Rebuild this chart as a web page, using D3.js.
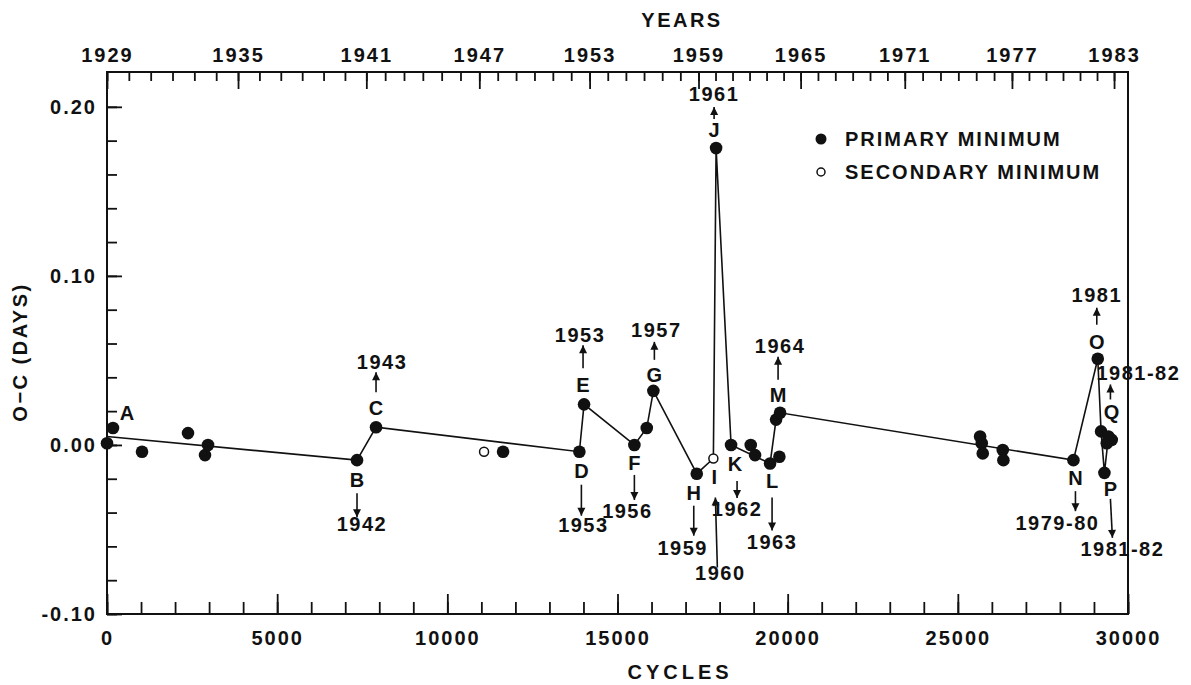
<!DOCTYPE html>
<html>
<head>
<meta charset="utf-8">
<script src="https://cdn.jsdelivr.net/npm/d3@7"></script>
<style>
  html, body { margin: 0; padding: 0; background: #fff; }
  svg text { font-family: "Liberation Sans", Arial, sans-serif; font-weight: bold; fill: #111; }
</style>
</head>
<body>
<svg id="chart" width="1191" height="685"></svg>
<script>
// ---------------- DATA ----------------
// primary minima (filled)
const primaryCycles = [0, 176, 1029, 2380, 2880, 2968, 7346, 7905, 11637,
  13880, 14017, 15496, 15860, 16054, 17329, 17897, 18337, 18915, 19042, 19483, 19756, 19659, 19777,
  25654, 25703, 25732, 26320, 26339, 28397, 29112, 29209, 29307, 29425, 29523, 29376];
const primaryOC = [0.001, 0.010, -0.004, 0.007, -0.006, 0.000, -0.009, 0.0105, -0.004,
  -0.004, 0.024, 0.000, 0.010, 0.032, -0.017, 0.1756, 0.000, 0.000, -0.006, -0.011, -0.007, 0.015, 0.019,
  0.005, 0.001, -0.005, -0.003, -0.009, -0.009, 0.051, 0.008, -0.0165, 0.005, 0.003, 0.001];
// secondary minima (open)
const secondaryCycles = [11079, 17817];
const secondaryOC = [-0.004, -0.008];
// connecting line nodes
const lineCycles = [0, 7346, 7905, 13880, 14017, 15496, 15860, 16054, 17329, 17817, 17897, 18337, 19483, 19659, 19777, 28397, 29112, 29209, 29307, 29425];
const lineOC = [0.005, -0.009, 0.0105, -0.004, 0.024, 0.000, 0.010, 0.032, -0.017, -0.008, 0.1756, 0.000, -0.011, 0.015, 0.019, -0.009, 0.051, 0.008, -0.0165, 0.005];
// annotations: letter, anchor point, year text
const annLetters = ["A", "B", "C", "D", "E", "F", "G", "H", "I", "J", "K", "L", "M", "N", "O", "P", "Q"];
const annCycles  = [176, 7346, 7905, 13880, 14017, 15496, 16054, 17329, 17817, 17897, 18337, 19483, 19777, 28397, 29112, 29307, 29425];
const annOC      = [0.010, -0.009, 0.0105, -0.004, 0.024, 0.000, 0.032, -0.017, -0.008, 0.1756, 0.000, -0.011, 0.019, -0.009, 0.051, -0.0165, 0.005];
const annYears   = ["", "1942", "1943", "1953", "1953", "1956", "1957", "1959", "1960", "1961", "1962", "1963", "1964", "1979-80", "1981", "1981-82", "1981-82"];
// axes
const yMajorTicks = [-0.10, 0.00, 0.10, 0.20];
const yTickLabels = ["-0.10", "0.00", "0.10", "0.20"];
const xMajorTicks = [0, 5000, 10000, 15000, 20000, 25000, 30000];
const yearTicks = [1929, 1935, 1941, 1947, 1953, 1959, 1965, 1971, 1977, 1983];
const yearTickCycles = [0, 3850, 7620, 10940, 14180, 17380, 20380, 23440, 26590, 29590];
const legendLabels = ["PRIMARY MINIMUM", "SECONDARY MINIMUM"];

// ---------------- LAYOUT ----------------
const L = 107, R = 1128, T = 72, B = 614;
const svg = d3.select("#chart");
const x = d3.scaleLinear().domain([0, 30000]).range([L, R]);
const y = d3.scaleLinear().domain([-0.10, 0.2206]).range([B, T]);
const yearScale = d3.scaleLinear().domain(yearTicks).range(yearTickCycles.map(c => x(c)));

const FS = 20, LS = "2px";

// frame
svg.append("rect").attr("x", L).attr("y", T).attr("width", R - L).attr("height", B - T)
  .attr("fill", "none").attr("stroke", "#111").attr("stroke-width", 2);

function styleAxis(g) {
  g.select(".domain").remove();
  g.selectAll("line").attr("stroke", "#111").attr("stroke-width", 1.8);
  g.selectAll("text").attr("font-size", FS).attr("letter-spacing", LS)
    .attr("font-family", "Liberation Sans, Arial, sans-serif").attr("font-weight", "bold").attr("fill", "#111");
}

// left axis
svg.append("g").attr("transform", `translate(${L},0)`)
  .call(d3.axisLeft(y).tickValues(d3.range(-0.10, 0.2001, 0.02)).tickSize(-10).tickFormat(""))
  .call(styleAxis);
svg.append("g").attr("transform", `translate(${L},0)`)
  .call(d3.axisLeft(y).tickValues(yMajorTicks).tickSize(-15).tickPadding(10)
    .tickFormat((d, i) => yTickLabels[i]))
  .call(styleAxis);

// bottom axis
svg.append("g").attr("transform", `translate(0,${B})`)
  .call(d3.axisBottom(x).tickValues(d3.range(0, 30001, 1000)).tickSize(-12).tickFormat(""))
  .call(styleAxis);
svg.append("g").attr("transform", `translate(0,${B})`)
  .call(d3.axisBottom(x).tickValues(xMajorTicks).tickSize(-20).tickPadding(17).tickFormat(d3.format("d")))
  .call(styleAxis);

// top axis (years)
svg.append("g").attr("transform", `translate(0,${T})`)
  .call(d3.axisTop(yearScale).tickValues(d3.range(1929, 1984, 1)).tickSize(-9).tickFormat(""))
  .call(styleAxis);
svg.append("g").attr("transform", `translate(0,${T})`)
  .call(d3.axisTop(yearScale).tickValues(yearTicks).tickSize(-17).tickPadding(10).tickFormat(d3.format("d")))
  .call(styleAxis);

// axis titles
svg.append("text").attr("x", 682).attr("y", 27).attr("text-anchor", "middle")
  .attr("font-size", FS).attr("letter-spacing", "2.5px").text("YEARS");
svg.append("text").attr("x", 680).attr("y", 679).attr("text-anchor", "middle")
  .attr("font-size", FS).attr("letter-spacing", "4px").text("CYCLES");
svg.append("text").attr("transform", "translate(27,352) rotate(-90)").attr("text-anchor", "middle")
  .attr("font-size", FS).attr("letter-spacing", "2.5px").text("O\u2212C (DAYS)");

// connecting line
const lineData = lineCycles.map((c, i) => [c, lineOC[i]]);
svg.append("path").datum(lineData)
  .attr("d", d3.line().x(d => x(d[0])).y(d => y(d[1])))
  .attr("fill", "none").attr("stroke", "#111").attr("stroke-width", 1.6);

// points
svg.append("g").selectAll("circle").data(primaryCycles.map((c, i) => [c, primaryOC[i]]))
  .join("circle").attr("cx", d => x(d[0])).attr("cy", d => y(d[1])).attr("r", 6.3).attr("fill", "#111");
svg.append("g").selectAll("circle").data(secondaryCycles.map((c, i) => [c, secondaryOC[i]]))
  .join("circle").attr("cx", d => x(d[0])).attr("cy", d => y(d[1])).attr("r", 4.5)
  .attr("fill", "#fff").attr("stroke", "#111").attr("stroke-width", 1.5);

// annotation layout (pixel offsets from anchor point)
// [letterDx, letterDy, arrowX1dx, arrowY1, arrowX2dx, arrowY2, yearDx, yearDy]
const annLayout = {
  A: [14, -15],
  B: [0, 20, 0, 33, 0, 57, 5, 64],
  C: [0, -19, 0, -35, 0, -55, 6, -65],
  D: [2, 19, 2, 33, 2, 64, 4, 73],
  E: [-1, -19, -1, -36, -1, -59, -4, -69],
  F: [0, 18, 0, 30, 0, 55, -7, 66],
  G: [1, -16, 1, -31, 1, -49, 3, -61],
  H: [-3, 19, -3, 32, -3, 62, -14, 74],
  I: [1, 19, 4, 109, 2, 39, 7, 115],
  J: [-2, -18, -2, -29, -2, -41, -2, -54],
  K: [4, 19, 6, 36, 6, 53, 6, 64],
  L: [2, 17, 2, 34, 2, 67, 2, 78],
  M: [-2, -18, -2, -33, -2, -56, 0, -67],
  N: [2, 18, 2, 31, 2, 51, -16, 63],
  O: [-1, -17, -1, -34, -1, -51, -1, -64],
  P: [6, 16, 6, 26, 8, 65, 18, 76],
  Q: [3, -24, 2, -37, 2, -52, 30, -63]
};
const ann = svg.append("g");
function arrow(x1, y1, x2, y2) {
  ann.append("line").attr("x1", x1).attr("y1", y1).attr("x2", x2).attr("y2", y2)
    .attr("stroke", "#111").attr("stroke-width", 1.6);
  const ang = Math.atan2(y2 - y1, x2 - x1);
  const hl = 8, hw = 4;
  const bx = x2 - hl * Math.cos(ang), by = y2 - hl * Math.sin(ang);
  const px = -Math.sin(ang) * hw, py = Math.cos(ang) * hw;
  ann.append("path").attr("d", `M${x2},${y2}L${bx + px},${by + py}L${bx - px},${by - py}Z`).attr("fill", "#111");
}
annLetters.forEach((letter, i) => {
  const px = x(annCycles[i]), py = y(annOC[i]);
  const lay = annLayout[letter];
  ann.append("text").attr("x", px + lay[0]).attr("y", py + lay[1]).attr("dy", "0.35em")
    .attr("text-anchor", "middle").attr("font-size", FS).text(letter);
  if (lay.length > 2) {
    arrow(px + lay[2], py + lay[3], px + lay[4], py + lay[5]);
    ann.append("text").attr("x", px + lay[6]).attr("y", py + lay[7]).attr("dy", "0.35em")
      .attr("text-anchor", "middle").attr("font-size", FS).attr("letter-spacing", "1.5px").text(annYears[i]);
  }
});

// legend
const lg = svg.append("g");
lg.append("circle").attr("cx", 821).attr("cy", 139).attr("r", 5.5).attr("fill", "#111");
lg.append("circle").attr("cx", 821).attr("cy", 172).attr("r", 4).attr("fill", "#fff")
  .attr("stroke", "#111").attr("stroke-width", 1.5);
lg.append("text").attr("x", 845).attr("y", 139).attr("dy", "0.35em").attr("font-size", FS)
  .attr("letter-spacing", "2px").text(legendLabels[0]);
lg.append("text").attr("x", 845).attr("y", 172).attr("dy", "0.35em").attr("font-size", FS)
  .attr("letter-spacing", "2px").text(legendLabels[1]);
</script>
</body>
</html>
